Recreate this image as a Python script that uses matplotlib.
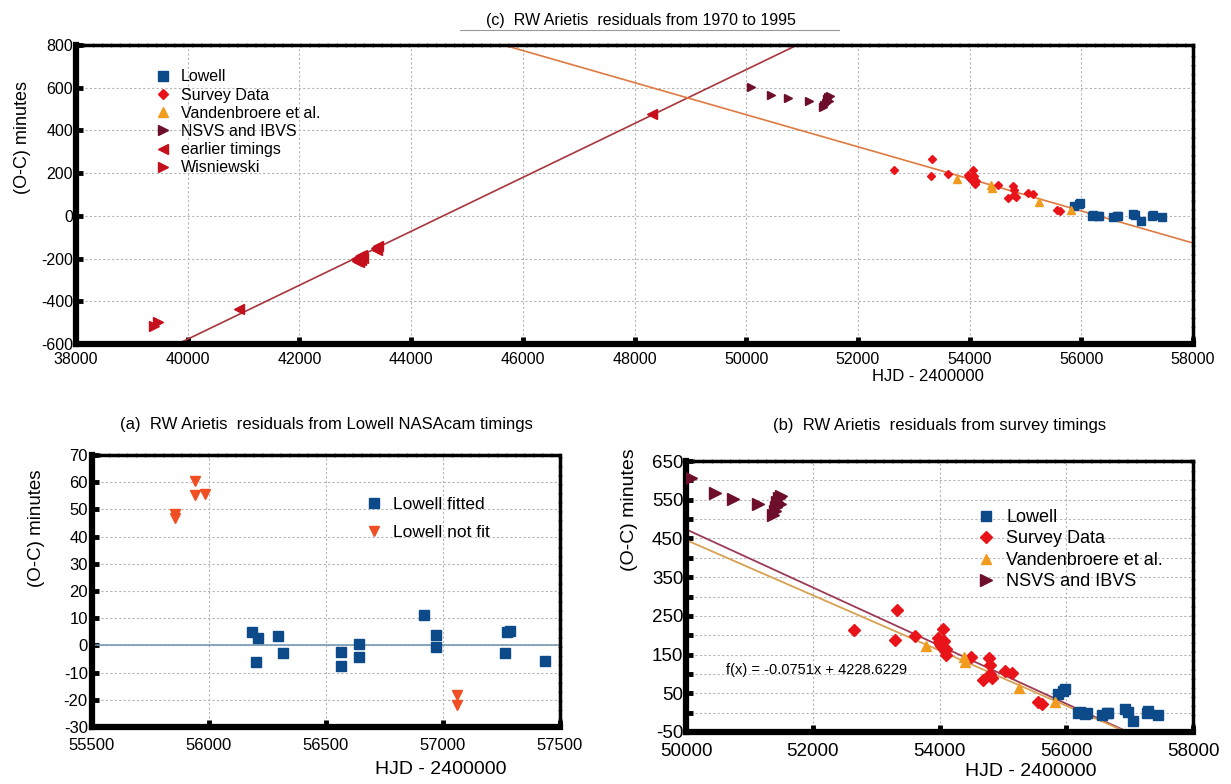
import matplotlib
matplotlib.use("Agg")
import matplotlib.pyplot as plt
from matplotlib.lines import Line2D

plt.rcParams['font.family'] = ['Liberation Sans', 'DejaVu Sans']
plt.rcParams['axes.unicode_minus'] = False

# Lowell NASAcam timings (shared by panels b and c)
lowell_x = [55870, 55950, 55985, 56190, 56210, 56300, 56320, 56560, 56640, 56660,
            56920, 56970, 57060, 57270, 57290, 57440]
lowell_y = [47, 56, 60, -2, 2, -3, 0, -5, -2, 0, 10, 2, -22, -1, 5, -5]

# survey timings
survey_x = [52645, 53300, 53330, 53620, 53970, 53990, 54010, 54030, 54050, 54070,
            54080, 54095, 54060, 54110, 54500, 54690, 54780, 54790, 54800, 54830,
            55040, 55140, 55560, 55610]
survey_y = [214, 188, 265, 198, 192, 183, 178, 172, 168, 185,
            158, 150, 216, 165, 143, 85, 142, 122, 100, 90,
            108, 103, 28, 22]

vdb_x = [53780, 54380, 54410, 55250, 55820]
vdb_y = [172, 143, 131, 63, 28]

nsvs_x = [50080, 50450, 50740, 51130, 51380, 51400, 51420, 51440, 51460, 51480, 51500]
nsvs_y = [605, 567, 552, 540, 510, 520, 530, 545, 555, 540, 560]

earlier_x = [40926, 43020, 43040, 43060, 43070, 43090, 43100, 43120, 43140,
             43380, 43395, 43410, 48313]
earlier_y = [-437, -200, -210, -195, -215, -190, -205, -185, -198,
             -150, -162, -142, 476]

wisn_x = [39400, 39460]
wisn_y = [-518, -495]

# panel (a): residuals from the Lowell ephemeris
fit_x = [56185, 56209, 56201, 56294, 56315, 56562, 56562, 56641, 56641, 56920,
         56968, 56968, 57265, 57273, 57286, 57435]
fit_y = [4.8, 2.6, -6.0, 3.4, -2.9, -2.4, -7.6, 0.5, -4.3, 11.0,
         3.9, -0.7, -2.9, 4.9, 5.4, -5.7]
notfit_x = [55856, 55856, 55940, 55940, 55982, 57058, 57058]
notfit_y = [48.3, 46.7, 60.6, 55.3, 55.5, -18.4, -21.8]

# linear fits
survey_slope, survey_icpt = -0.0751, 4228.6229
survey_slope2, survey_icpt2 = -0.07137, 4014.5
early_slope, early_icpt = 0.1262, -5625.3

c_blue = '#0d4a8a'
c_red = '#e8141a'
c_orange = '#f29c1f'
c_maroon = '#6d0f2b'
c_early = '#c4101c'
c_notfit = '#f04e23'

fig = plt.figure(figsize=(12.31, 7.84), dpi=100)
W, H = 1231, 784


def box(l, t, r, b):
    return [l / W, 1 - b / H, (r - l) / W, (b - t) / H]


def style(ax, lw_main=4.5, lw_other=2.5):
    for s in ['left', 'bottom']:
        ax.spines[s].set_linewidth(lw_main)
    for s in ['top', 'right']:
        ax.spines[s].set_linewidth(lw_other)
        ax.spines[s].set_linestyle((0, (2, 0.6)))
    ax.grid(True, which='both', color='#b5b5b5', linestyle=(0, (2, 2)), linewidth=0.8)
    ax.set_axisbelow(True)
    ax.tick_params(which='both', direction='in', length=5, width=3.5, color='black',
                   top=False, right=False)


def line(ax, x0, x1, m, b, **kw):
    ax.plot([x0, x1], [m * x0 + b, m * x1 + b], **kw)


# ---- (c) full range ----
axc = fig.add_axes(box(76, 45, 1193, 344))
style(axc)
line(axc, 38000, 58000, early_slope, early_icpt, color='#a8343c', lw=1.2, zorder=2)
line(axc, 38000, 58000, survey_slope, survey_icpt, color='#e07a40', lw=1.2, zorder=2)
axc.plot(lowell_x, lowell_y, 's', color=c_blue, ms=5.5, label='Lowell', zorder=3)
axc.plot(survey_x, survey_y, 'D', color=c_red, ms=4.5, label='Survey Data', zorder=3)
axc.plot(vdb_x, vdb_y, '^', color=c_orange, ms=6, label='Vandenbroere et al.', zorder=3)
axc.plot(nsvs_x, nsvs_y, '>', color=c_maroon, ms=6, label='NSVS and IBVS', zorder=3)
axc.plot(earlier_x, earlier_y, '<', color=c_early, ms=6.5, label='earlier timings', zorder=3)
axc.plot(wisn_x, wisn_y, '>', color=c_early, ms=6.5, label='Wisniewski', zorder=3)
axc.set_xlim(38000, 58000)
axc.set_ylim(-600, 800)
axc.set_xticks(range(38000, 58001, 2000))
axc.set_yticks(range(-600, 801, 200))
axc.tick_params(labelsize=11.5)
axc.tick_params(axis='x', pad=6)
axc.tick_params(axis='y', pad=2)
axc.set_xlabel('HJD - 2400000', fontsize=12)
axc.xaxis.set_label_coords(0.763, -0.085)
axc.set_ylabel('(O-C) minutes', fontsize=13)
axc.yaxis.set_label_coords(-0.04, 0.69)
axc.legend(loc='upper left', bbox_to_anchor=(0.065, 0.94), frameon=False, fontsize=11.5,
           handlelength=1.0, handletextpad=0.6, labelspacing=0.2, borderaxespad=0,
           markerscale=1.2)
fig.text(641 / W, 1 - 20 / H, '(c)  RW Arietis  residuals from 1970 to 1995',
         ha='center', va='center', fontsize=11.5)
fig.add_artist(Line2D([460 / W, 839 / W], [1 - 30 / H, 1 - 30 / H], color='#999999', lw=0.8))

# ---- (a) Lowell residuals ----
axa = fig.add_axes(box(92, 455, 560, 727))
style(axa)
axa.axhline(0, color='#7799b3', lw=1.2, zorder=2)
axa.plot(fit_x, fit_y, 's', color=c_blue, ms=7, label='Lowell fitted', zorder=3)
axa.plot(notfit_x, notfit_y, 'v', color=c_notfit, ms=7, label='Lowell not fit', zorder=3)
axa.set_xlim(55500, 57500)
axa.set_ylim(-30, 70)
axa.set_xticks(range(55500, 57501, 500))
axa.set_yticks(range(-30, 71, 10))
axa.tick_params(labelsize=12)
axa.tick_params(axis='x', pad=8)
axa.tick_params(axis='y', pad=3)
axa.set_xlabel('HJD - 2400000', fontsize=14)
axa.xaxis.set_label_coords(0.745, -0.125)
axa.set_ylabel('(O-C) minutes', fontsize=13.5)
axa.yaxis.set_label_coords(-0.1, 0.73)
axa.legend(loc='upper left', bbox_to_anchor=(0.57, 0.87), frameon=False, fontsize=12.5,
           handlelength=1.0, handletextpad=0.6, labelspacing=0.7, borderaxespad=0)
axa.set_title('(a)  RW Arietis  residuals from Lowell NASAcam timings', fontsize=12, pad=19)

# ---- (b) survey residuals ----
axb = fig.add_axes(box(686, 461, 1193, 732))
style(axb)
line(axb, 50000, 58000, survey_slope, survey_icpt, color='#9c3a55', lw=1.3, zorder=2)
line(axb, 50000, 58000, survey_slope2, survey_icpt2, color='#d9a050', lw=1.3, zorder=2)
axb.plot(lowell_x, lowell_y, 's', color=c_blue, ms=7.5, label='Lowell', zorder=3)
axb.plot(survey_x, survey_y, 'D', color=c_red, ms=6, label='Survey Data', zorder=3)
axb.plot(vdb_x, vdb_y, '^', color=c_orange, ms=7.5, label='Vandenbroere et al.', zorder=3)
axb.plot(nsvs_x, nsvs_y, '>', color=c_maroon, ms=8, label='NSVS and IBVS', zorder=3)
axb.set_xlim(50000, 58000)
axb.set_ylim(-50, 650)
axb.set_xticks(range(50000, 58001, 2000))
axb.set_yticks(range(-50, 651, 100))
axb.set_yticks(range(0, 651, 100), minor=True)
axb.tick_params(labelsize=13.5)
axb.tick_params(axis='x', pad=8)
axb.tick_params(axis='y', pad=2)
axb.set_xlabel('HJD - 2400000', fontsize=14)
axb.xaxis.set_label_coords(0.68, -0.115)
axb.set_ylabel('(O-C) minutes', fontsize=14)
axb.yaxis.set_label_coords(-0.095, 0.82)
axb.legend(loc='upper left', bbox_to_anchor=(0.56, 0.85), frameon=False, fontsize=13,
           handlelength=1.0, handletextpad=0.6, labelspacing=0.25, borderaxespad=0)
axb.text(50625, 110, 'f(x) = -0.0751x + 4228.6229', fontsize=10.5, va='center')
axb.set_title('(b)  RW Arietis  residuals from survey timings', fontsize=12, pad=22)

fig.savefig('out.png', dpi=100)
